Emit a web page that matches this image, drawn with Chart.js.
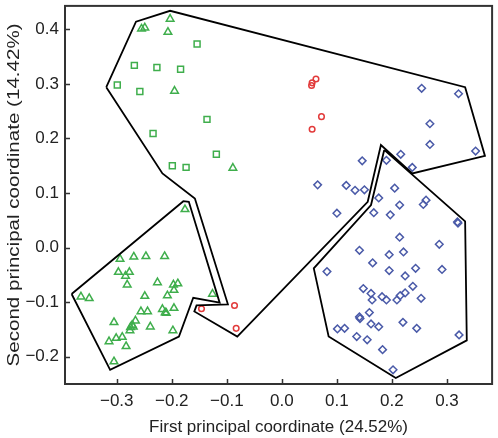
<!DOCTYPE html>
<html>
<head>
<meta charset="utf-8">
<script src="https://cdn.jsdelivr.net/npm/chart.js@4"></script>
<style>
  html, body { margin: 0; padding: 0; background: #fff; }
  #wrap { width: 498px; height: 438px; position: relative; }
</style>
</head>
<body>
<div id="wrap"><canvas id="pcoa"></canvas></div>
<script>
// ----- Data (PCoA coordinates) -----
const greenSquaresX = [-0.154, -0.268, -0.227, -0.184, -0.299, -0.258, -0.136, -0.234, -0.119, -0.199, -0.174];
const greenSquaresY = [0.373, 0.334, 0.330, 0.327, 0.298, 0.286, 0.235, 0.209, 0.171, 0.150, 0.147];

const greenTrianglesX = [-0.203, -0.255, -0.249, -0.207, -0.195, -0.089,
  -0.176, -0.126, -0.294, -0.269, -0.247, -0.213, -0.297, -0.277, -0.284, -0.281,
  -0.226, -0.197, -0.189, -0.196, -0.208, -0.249, -0.365, -0.350, -0.256, -0.244,
  -0.217, -0.212, -0.210, -0.196, -0.305, -0.266, -0.272, -0.275, -0.270, -0.276,
  -0.239, -0.290, -0.301, -0.314, -0.283, -0.198, -0.305];
const greenTrianglesY = [0.419, 0.401, 0.403, 0.395, 0.287, 0.146,
  0.070, -0.085, -0.021, -0.017, -0.016, -0.016, -0.045, -0.045, -0.052, -0.068,
  -0.064, -0.068, -0.066, -0.078, -0.088, -0.089, -0.090, -0.093, -0.117, -0.117,
  -0.113, -0.119, -0.120, -0.111, -0.137, -0.134, -0.142, -0.146, -0.145, -0.152,
  -0.145, -0.164, -0.166, -0.172, -0.181, -0.152, -0.209];

const redCirclesX = [0.062, 0.055, 0.054, 0.072, 0.055, -0.146, -0.086, -0.083];
const redCirclesY = [0.309, 0.302, 0.297, 0.240, 0.217, -0.112, -0.106, -0.148];

const blueDiamondsX = [0.254, 0.321, 0.269, 0.269, 0.352, 0.216, 0.146, 0.190, 0.237,
  0.065, 0.117, 0.133, 0.150, 0.205, 0.176, 0.262, 0.257, 0.214, 0.100, 0.167, 0.197,
  0.319, 0.320, 0.214, 0.286, 0.141, 0.221, 0.195, 0.165, 0.082, 0.243, 0.291, 0.195,
  0.224, 0.148, 0.162, 0.182, 0.190, 0.164, 0.238, 0.224, 0.215, 0.209, 0.253, 0.159,
  0.141, 0.142, 0.162, 0.176, 0.220, 0.245, 0.101, 0.114, 0.136, 0.155, 0.322, 0.183, 0.202];
const blueDiamondsY = [0.292, 0.282, 0.227, 0.189, 0.177, 0.171, 0.159, 0.160, 0.147,
  0.115, 0.114, 0.105, 0.106, 0.109, 0.091, 0.087, 0.079, 0.078, 0.063, 0.064, 0.060,
  0.047, 0.045, 0.019, 0.006, -0.005, -0.008, -0.013, -0.028, -0.044, -0.038, -0.040, -0.042,
  -0.052, -0.075, -0.084, -0.090, -0.096, -0.096, -0.071, -0.083, -0.088, -0.096, -0.093, -0.119,
  -0.127, -0.130, -0.140, -0.145, -0.137, -0.148, -0.149, -0.148, -0.163, -0.169, -0.160, -0.187, -0.224];

// hull outlines (closed)
const hullBigX = [-0.319, -0.265, -0.203, 0.333, 0.369, 0.237, 0.180, 0.156, -0.081, -0.159, -0.155, -0.098, -0.158, -0.217, -0.319];
const hullBigY = [0.294, 0.414, 0.434, 0.294, 0.168, 0.136, 0.188, 0.084, -0.163, -0.117, -0.106, -0.104, 0.090, 0.136, 0.294];
const hullBlueX = [0.186, 0.333, 0.336, 0.207, 0.085, 0.058, 0.162, 0.186];
const hullBlueY = [0.179, 0.048, -0.170, -0.239, -0.163, -0.038, 0.078, 0.179];
const hullGreenX = [-0.382, -0.179, -0.169, -0.113, -0.161, -0.187, -0.312, -0.382];
const hullGreenY = [-0.085, 0.085, 0.084, -0.101, -0.092, -0.163, -0.224, -0.085];

const xTicks = [-0.3, -0.2, -0.1, 0.0, 0.1, 0.2, 0.3];
const yTicks = [-0.2, -0.1, 0.0, 0.1, 0.2, 0.3, 0.4];
const xTitle = "First principal coordinate (24.52%)";
const yTitle = "Second principal coordinate (14.42%)";

// ----- Helpers -----
function pts(xs, ys) {
  return xs.map((x, i) => ({ x: x, y: ys[i] }));
}
function markerSet(xs, ys, style, color, r) {
  return {
    data: pts(xs, ys),
    pointStyle: style,
    pointRadius: r,
    pointBorderColor: color,
    pointBackgroundColor: "rgba(0,0,0,0)",
    pointBorderWidth: 1.5,
    showLine: false,
  };
}
function hullSet(xs, ys) {
  return {
    data: pts(xs, ys),
    showLine: true,
    borderColor: "#000",
    borderWidth: 1.8,
    pointRadius: 0,
    fill: false,
    tension: 0,
  };
}
function fmt(v) {
  return v < 0 ? "\u2212" + Math.abs(v).toFixed(1) : v.toFixed(1);
}

const FAMILY = "'Liberation Sans', Arial, sans-serif";
const FONT = { family: FAMILY, size: 17 };

// inward tick marks, box frame, stretched y title
const frameTicks = {
  id: "frameTicks",
  afterDraw(chart) {
    const ctx = chart.ctx;
    const a = chart.chartArea;
    const xs = chart.scales.x, ys = chart.scales.y;
    ctx.save();
    ctx.strokeStyle = "#333";
    ctx.lineWidth = 2;
    ctx.strokeRect(a.left, a.top, a.right - a.left, a.bottom - a.top);
    ctx.lineWidth = 1.5;
    ctx.beginPath();
    xTicks.forEach((t) => {
      const px = Math.round(xs.getPixelForValue(t)) + 0.5;
      ctx.moveTo(px, a.bottom);
      ctx.lineTo(px, a.bottom - 5);
    });
    yTicks.forEach((t) => {
      const py = Math.round(ys.getPixelForValue(t)) + 0.5;
      ctx.moveTo(a.left, py);
      ctx.lineTo(a.left + 5, py);
    });
    ctx.stroke();

    // y title: the source figure stretches it along the axis
    ctx.font = "17px " + FAMILY;
    ctx.fillStyle = "#222";
    ctx.textAlign = "center";
    ctx.textBaseline = "middle";
    const w = ctx.measureText(yTitle).width;
    ctx.translate(14, (a.top + a.bottom) / 2);
    ctx.rotate(-Math.PI / 2);
    ctx.scale(343 / w, 1);
    ctx.fillText(yTitle, 0, 0);
    ctx.restore();
  },
};

new Chart(document.getElementById("pcoa"), {
  type: "scatter",
  data: {
    datasets: [
      hullSet(hullBigX, hullBigY),
      hullSet(hullBlueX, hullBlueY),
      hullSet(hullGreenX, hullGreenY),
      markerSet(greenSquaresX, greenSquaresY, "rect", "#3fae4c", 4.2),
      markerSet(greenTrianglesX, greenTrianglesY, "triangle", "#3fae4c", 4.4),
      markerSet(redCirclesX, redCirclesY, "circle", "#e23a3a", 2.8),
      markerSet(blueDiamondsX, blueDiamondsY, "rectRot", "#4a5aa8", 3.8),
    ],
  },
  options: {
    responsive: true,
    maintainAspectRatio: false,
    animation: false,
    layout: { padding: { top: 5, right: 5, left: 0, bottom: 0 } },
    plugins: { legend: { display: false }, tooltip: { enabled: false } },
    scales: {
      x: {
        type: "linear",
        min: -0.394,
        max: 0.382,
        afterBuildTicks: (s) => { s.ticks = xTicks.map((v) => ({ value: v })); },
        afterFit: (s) => { s.height = 54; s.paddingLeft = 0; s.paddingRight = 0; },
        grid: { display: false, drawTicks: false },
        border: { display: false },
        ticks: { color: "#222", font: FONT, padding: 7, maxRotation: 0, callback: fmt },
        title: {
          display: true,
          text: xTitle,
          color: "#222",
          font: FONT,
          padding: { top: 5, bottom: 0 },
        },
      },
      y: {
        type: "linear",
        min: -0.25,
        max: 0.443,
        afterBuildTicks: (s) => { s.ticks = yTicks.map((v) => ({ value: v })); },
        afterFit: (s) => { s.width = 65; s.paddingTop = 0; s.paddingBottom = 0; },
        grid: { display: false, drawTicks: false },
        border: { display: false },
        ticks: { color: "#222", font: FONT, padding: 6, callback: fmt },
        title: { display: false },
      },
    },
  },
  plugins: [frameTicks],
});
</script>
</body>
</html>
